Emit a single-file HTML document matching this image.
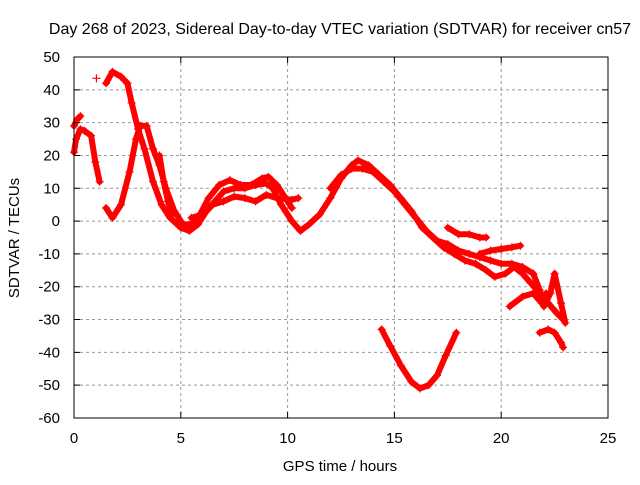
<!DOCTYPE html>
<html><head><meta charset="utf-8"><style>
body{margin:0;background:#fff;}
svg text{font-family:"Liberation Sans",sans-serif;font-size:15px;fill:#000;}
</style></head><body>
<svg id="chart" width="640" height="480" xmlns="http://www.w3.org/2000/svg">
<rect width="640" height="480" fill="#fff"/>
<g id="grid"></g>
<g id="series"></g>
<rect x="74" y="57" width="534" height="361" fill="none" stroke="#000" stroke-width="1"/>
<g id="ticks"></g>
<text x="340" y="34" text-anchor="middle" style="font-size:16px">Day 268 of 2023, Sidereal Day-to-day VTEC variation (SDTVAR) for receiver cn57</text>
<text x="340" y="471" text-anchor="middle">GPS time / hours</text>
<text x="19" y="238" text-anchor="middle" transform="rotate(-90 19 238)">SDTVAR / TECUs</text>
</svg>
<script>
const xTicks=[0,5,10,15,20,25];
const yTicks=[50,40,30,20,10,0,-10,-20,-30,-40,-50,-60];
const trackA=[[0,21],[0.1,25],[0.3,28],[0.5,27.5],[0.8,26],[1.0,18],[1.2,12]];
const trackA2=[[0,29],[0.15,31],[0.3,32]];
const trackB=[[1.5,42],[1.8,45.5],[2.2,44],[2.5,42],[2.7,36],[3.0,28],[3.3,22],[3.7,12],[4.1,5],[4.5,1],[5.0,-2],[5.4,-3],[5.8,-1],[6.2,3],[6.6,6],[7.0,9],[7.5,10],[8.0,10],[8.5,11],[9.0,11.5],[9.3,10],[9.7,5],[10.2,0],[10.6,-3],[11.0,-1],[11.5,2],[12.0,7],[12.5,13],[13.0,17],[13.3,18.5],[13.8,17],[14.3,14],[14.8,11],[15.3,7],[15.8,3],[16.3,-2],[16.8,-5],[17.3,-8],[17.8,-10],[18.3,-12],[18.8,-13],[19.3,-15],[19.7,-17],[20.2,-16],[20.6,-14],[21.0,-16],[21.4,-19],[21.8,-22],[22.2,-25],[22.6,-28],[22.9,-30]];
const trackC=[[1.5,4],[1.8,1],[2.2,5],[2.6,15],[2.9,25],[3.1,29],[3.4,29],[3.7,22],[4.0,17],[4.3,10],[4.7,3],[5.1,-1],[5.5,-1],[5.9,2],[6.3,7],[6.8,11],[7.3,12.5],[7.8,11],[8.3,11],[8.8,13],[9.1,13.5],[9.5,11],[9.9,7],[10.2,4]];
const trackC2=[[5.5,1],[6.0,2],[6.5,5],[7.0,6],[7.5,7.5],[8.0,7],[8.5,6],[9.0,8],[9.5,7],[10.2,6.5],[10.5,7]];
const trackC3=[[4.0,20],[4.2,12],[4.4,6],[4.6,2]];
const trackD=[[12.0,10],[12.5,14],[13.0,16],[13.5,16],[14.0,15],[14.5,12],[15.0,9],[15.5,5],[16.0,1],[16.5,-3],[17.0,-6],[17.5,-7],[18.0,-9],[18.5,-10],[19.0,-11],[19.5,-12],[20.0,-13],[20.5,-13],[21.0,-14],[21.5,-16],[21.8,-21],[22.0,-26],[22.3,-22],[22.5,-16],[22.8,-25],[23.0,-31]];
const trackE=[[17.5,-2],[18.0,-4],[18.5,-4],[19.0,-5],[19.3,-5]];
const trackF=[[19.0,-10],[19.5,-9],[20.0,-8.5],[20.5,-8],[20.9,-7.5]];
const trackG=[[20.4,-26],[21.0,-23],[21.5,-22],[21.9,-25],[22.1,-22]];
const trackH=[[21.8,-34],[22.2,-33],[22.5,-34],[22.8,-37],[22.9,-38.5]];
const trackI=[[14.4,-33],[14.8,-38],[15.3,-44],[15.8,-49],[16.2,-51],[16.6,-50],[17.0,-47],[17.4,-41],[17.9,-34]];
const lone=[[1.05,43.5]];
const tracks=[trackA,trackA2,trackB,trackC,trackC2,trackC3,trackD,trackE,trackF,trackG,trackH,trackI,lone];

const X0=74,X1=608,Y0=418,Y1=57;
const sx=v=>X0+(v-0)/(25-0)*(X1-X0);
const sy=v=>Y0-(v+60)/(110)*(Y0-Y1);
const NS='http://www.w3.org/2000/svg';
const grid=document.getElementById('grid'),ticks=document.getElementById('ticks'),ser=document.getElementById('series');
function mk(tag,attrs,parent){const e=document.createElementNS(NS,tag);for(const k in attrs)e.setAttribute(k,attrs[k]);parent.appendChild(e);return e;}
xTicks.forEach(t=>{
  const x=sx(t);
  if(t>0&&t<25){const g=mk('line',{x1:x,x2:x,y1:Y1,y2:Y0,stroke:'#999','stroke-dasharray':'3,3'},grid);
  
  }
  const tk=mk('path',{d:`M${x},${Y0}v-6M${x},${Y1}v6`,stroke:'#000'},ticks);
  
  
  const l=mk('text',{x:x,y:Y0+25,'text-anchor':'middle'},ticks);l.textContent=t;
  
  
});
yTicks.forEach(t=>{
  const y=sy(t);
  if(t<50&&t>-60){const g=mk('line',{x1:X0,x2:X1,y1:y,y2:y,stroke:'#999','stroke-dasharray':'3,3'},grid);
  
  }
  const tk=mk('path',{d:`M${X0},${y}h6M${X1},${y}h-6`,stroke:'#000'},ticks);
  
  
  const l=mk('text',{x:X0-14,y:y+5,'text-anchor':'end'},ticks);l.textContent=t;
  
  
});
tracks.forEach((tr,i)=>{
  const pts=tr.map(p=>sx(p[0])+','+sy(p[1])).join(' ');
  if(tr.length>1){const pl=mk('polyline',{points:pts,fill:'none',stroke:'#f00','stroke-width':6,'stroke-linejoin':'round','stroke-linecap':'round'},ser);
  
  }
  tr.forEach(p=>{
    const x=sx(p[0]),y=sy(p[1]);
    const m=mk('path',{d:`M${x-4},${y}h8M${x},${y-4}v8`,stroke:'#f00','stroke-width':1.2},ser);
    
    
  });
});
</script>
</body></html>
